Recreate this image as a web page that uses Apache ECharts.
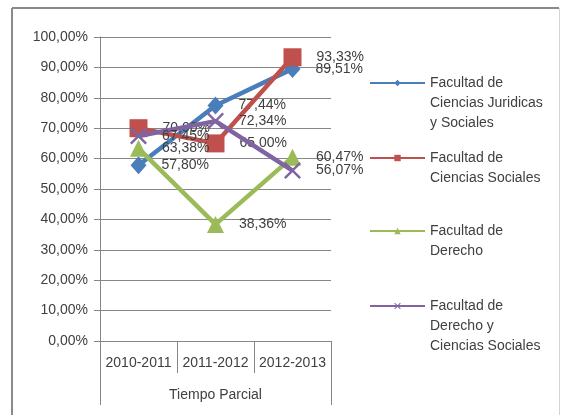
<!DOCTYPE html>
<html>
<head>
<meta charset="utf-8">
<script src="https://cdn.jsdelivr.net/npm/echarts@6/dist/echarts.min.js"></script>
<style>
  html, body { margin: 0; padding: 0; background: #fff; }
  #chart { width: 561px; height: 415px; }
</style>
</head>
<body>
<div id="chart"></div>
<script>
// Academic years (first axis level) and the grouping label (second level)
const years = ['2010-2011', '2011-2012', '2012-2013'];
const groupLabel = ['Tiempo Parcial'];

// Series names
const seriesNames = [
  'Facultad de\nCiencias Juridicas\ny Sociales',
  'Facultad de\nCiencias Sociales',
  'Facultad de\nDerecho',
  'Facultad de\nDerecho y\nCiencias Sociales'
];

// Percentages per year
const juridicasSociales = [57.80, 77.44, 89.51];
const cienciasSociales = [70.00, 65.00, 93.33];
const derecho = [63.38, 38.36, 60.47];
const derechoCienciasSociales = [67.45, 72.34, 56.07];

// Y-axis range
const yMin = 0, yMax = 100, yStep = 10;

const textColor = '#404040';
const gridColor = '#868686';
const font = 'Liberation Sans';
const fontSize = 14;

const pct = v => v.toFixed(2).replace('.', ',') + '%';

const colors = ['#4A7EBB', '#C0504D', '#9BBB59', '#8064A2'];
const symbols = [
  'diamond',
  'rect',
  'triangle',
  'path://M0,2 L2,0 L10,8 L18,0 L20,2 L12,10 L20,18 L18,20 L10,12 L2,20 L0,18 L8,10 Z'
];
const symbolSizes = [[16, 18], 18, 17, 17];
const values = [juridicasSociales, cienciasSociales, derecho, derechoCienciasSociales];

const series = seriesNames.map((name, i) => ({
  name,
  type: 'line',
  data: values[i],
  symbol: symbols[i],
  symbolSize: symbolSizes[i],
  color: colors[i],
  lineStyle: { width: 4.5, color: colors[i] },
  itemStyle: { color: colors[i] },
  z: 2 + i,
  label: {
    show: true,
    position: 'right',
    distance: 15,
    color: textColor,
    fontFamily: font,
    fontSize: fontSize,
    formatter: p => pct(p.value)
  },
  emphasis: { disabled: true },
  animation: false
}));

// One legend block per series. Blank lines are prepended so that the
// centred text block puts the first real line level with the icon.
const lineH = 20;
const legendCenters = [83, 158, 231, 306];
const legends = seriesNames.map((name, i) => {
  const n = name.split('\n').length;
  return {
    data: [name],
    orient: 'vertical',
    left: 369,
    top: legendCenters[i] - (2 * n - 1) * lineH / 2,
    padding: 0,
    itemWidth: 55,
    itemHeight: 8,
    itemGap: 0,
    selectedMode: false,
    formatter: nm => '\n'.repeat(n - 1) + nm,
    textStyle: {
      color: textColor,
      fontFamily: font,
      fontSize: fontSize,
      lineHeight: lineH
    }
  };
});

const chart = echarts.init(document.getElementById('chart'), null, { renderer: 'canvas' });
chart.setOption({
  backgroundColor: '#ffffff',
  animation: false,
  grid: { left: 100, right: 230, top: 37, bottom: 74, containLabel: false },
  legend: legends,
  xAxis: [
    {
      type: 'category',
      data: years,
      boundaryGap: true,
      axisLine: { show: true, lineStyle: { color: gridColor, width: 1 } },
      axisTick: { show: true, interval: 0, length: 32, lineStyle: { color: gridColor } },
      axisLabel: { color: textColor, fontFamily: font, fontSize: fontSize, margin: 15, interval: 0 },
      splitLine: { show: false }
    },
    {
      type: 'category',
      data: groupLabel,
      position: 'bottom',
      offset: 32,
      boundaryGap: true,
      axisLine: { show: false },
      axisTick: { show: true, interval: 0, length: 32, lineStyle: { color: gridColor } },
      axisLabel: { color: textColor, fontFamily: font, fontSize: fontSize, margin: 15 },
      splitLine: { show: false }
    }
  ],
  yAxis: {
    type: 'value',
    min: yMin,
    max: yMax,
    interval: yStep,
    axisLine: { show: true, lineStyle: { color: gridColor } },
    axisTick: { show: true, length: 6, lineStyle: { color: gridColor } },
    axisLabel: { color: textColor, fontFamily: font, fontSize: fontSize, margin: 12, formatter: v => pct(v) },
    splitLine: { show: true, lineStyle: { color: gridColor, width: 1 } }
  },
  series,
  graphic: [
    { type: 'line', shape: { x1: 12, y1: 8, x2: 559, y2: 8 }, style: { stroke: '#8a8a8a', lineWidth: 2 }, silent: true },
    { type: 'line', shape: { x1: 12, y1: 8, x2: 12, y2: 415 }, style: { stroke: '#8a8a8a', lineWidth: 2 }, silent: true },
    { type: 'line', shape: { x1: 559.5, y1: 8, x2: 559.5, y2: 415 }, style: { stroke: '#d4d4d4', lineWidth: 1 }, silent: true }
  ]
});
</script>
</body>
</html>
